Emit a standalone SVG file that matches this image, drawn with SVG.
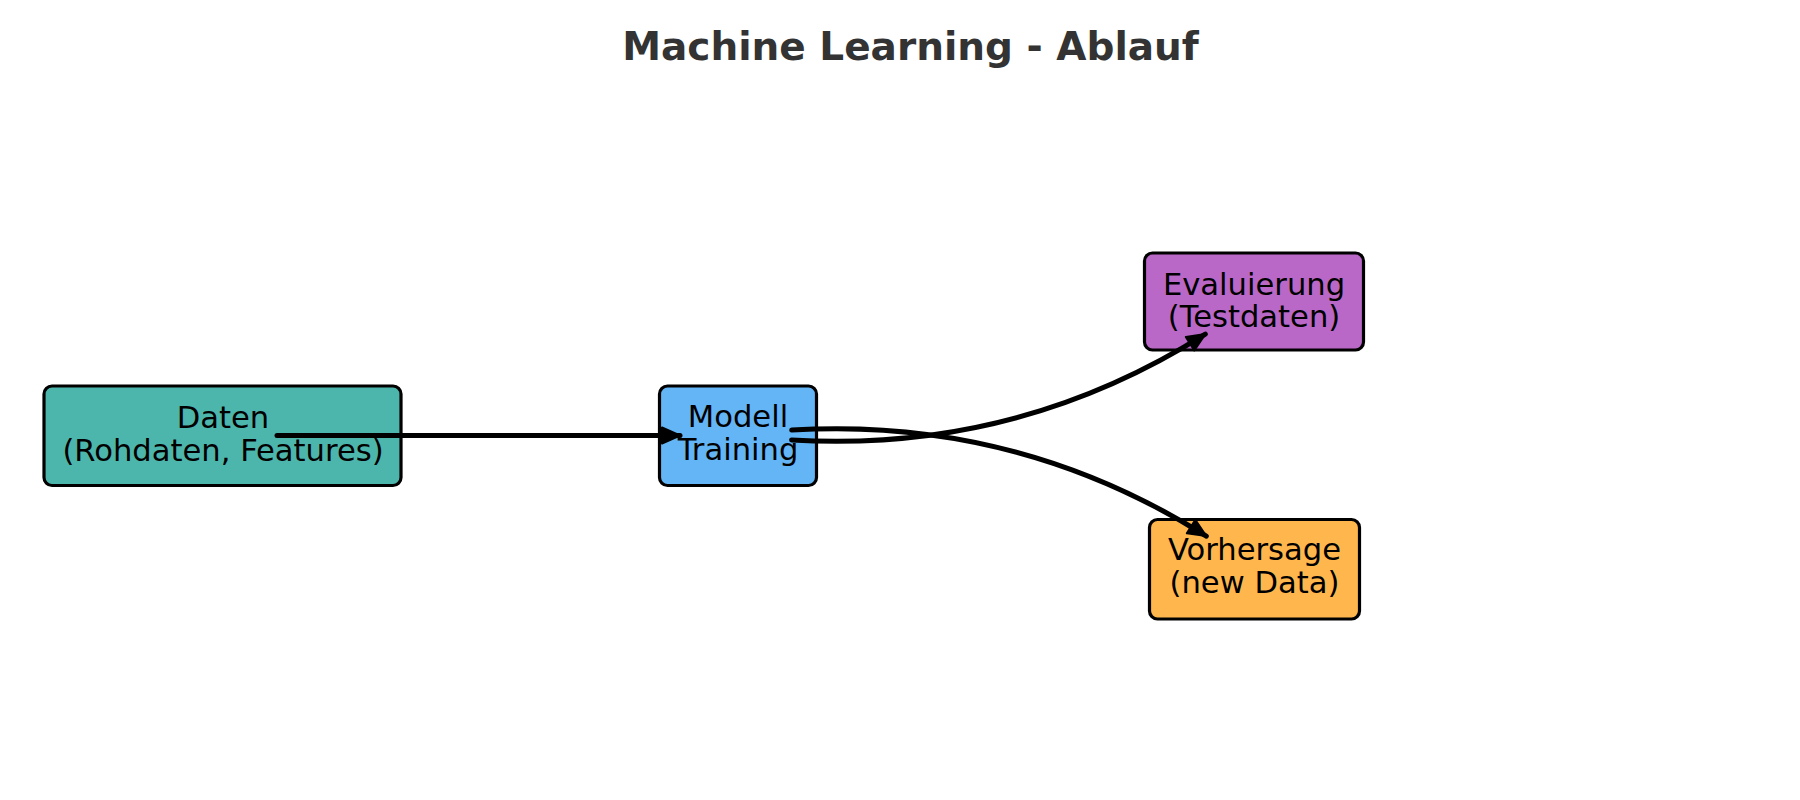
<svg xmlns="http://www.w3.org/2000/svg" width="1800" height="800" viewBox="0 0 1800 800">
  <style>
    .box { stroke: #000; stroke-width: 3.2; }
    .lbl { font-family: "DejaVu Sans", Verdana, sans-serif; font-size: 30.6px; fill: #000; text-anchor: middle; }
    .title { font-family: "DejaVu Sans", Verdana, sans-serif; font-size: 39px; font-weight: bold; fill: #333333; text-anchor: middle; }
    .edge { fill: none; stroke: #000; stroke-width: 5; stroke-linecap: round; marker-end: url(#ah); }
  </style>
  <defs>
    <marker id="ah" markerUnits="userSpaceOnUse" viewBox="-22 -12 24 24" refX="0" refY="0" markerWidth="24" markerHeight="24" orient="auto">
      <path d="M0,0 L-18,-8 L-18,8 Z" fill="#000" stroke="#000" stroke-width="2" stroke-linejoin="round"/>
    </marker>
  </defs>
  <rect width="1800" height="800" fill="#ffffff"/>
  <text class="title" x="910.5" y="60">Machine Learning - Ablauf</text>

  <g id="node-daten">
    <rect class="box" x="44" y="386" width="357" height="99.5" rx="8" ry="8" fill="#4DB6AC"/>
    <text class="lbl" x="223" y="428">Daten</text>
    <text class="lbl" x="223" y="461">(Rohdaten, Features)</text>
  </g>
  <g id="node-modell">
    <rect class="box" x="659.5" y="386" width="157" height="99.5" rx="8" ry="8" fill="#64B5F6"/>
    <text class="lbl" x="738" y="427">Modell</text>
    <text class="lbl" x="738" y="459.5">Training</text>
  </g>
  <g id="node-evaluierung">
    <rect class="box" x="1144.5" y="253" width="219" height="97" rx="8" ry="8" fill="#BA68C8"/>
    <text class="lbl" x="1254" y="295">Evaluierung</text>
    <text class="lbl" x="1254" y="327">(Testdaten)</text>
  </g>
  <g id="node-vorhersage">
    <rect class="box" x="1149.5" y="519.5" width="210" height="99.5" rx="8" ry="8" fill="#FFB74D"/>
    <text class="lbl" x="1254.5" y="560">Vorhersage</text>
    <text class="lbl" x="1254.5" y="592.5">(new Data)</text>
  </g>

  <g id="connectors">
    <path class="edge" d="M277,435.5 L680,435.5"/>
    <path class="edge" d="M791.6,440 Q1015.6,453.4 1205.3,334.1"/>
    <path class="edge" d="M791.7,430 Q1016.2,416.6 1206.3,536.1"/>
  </g>
</svg>
